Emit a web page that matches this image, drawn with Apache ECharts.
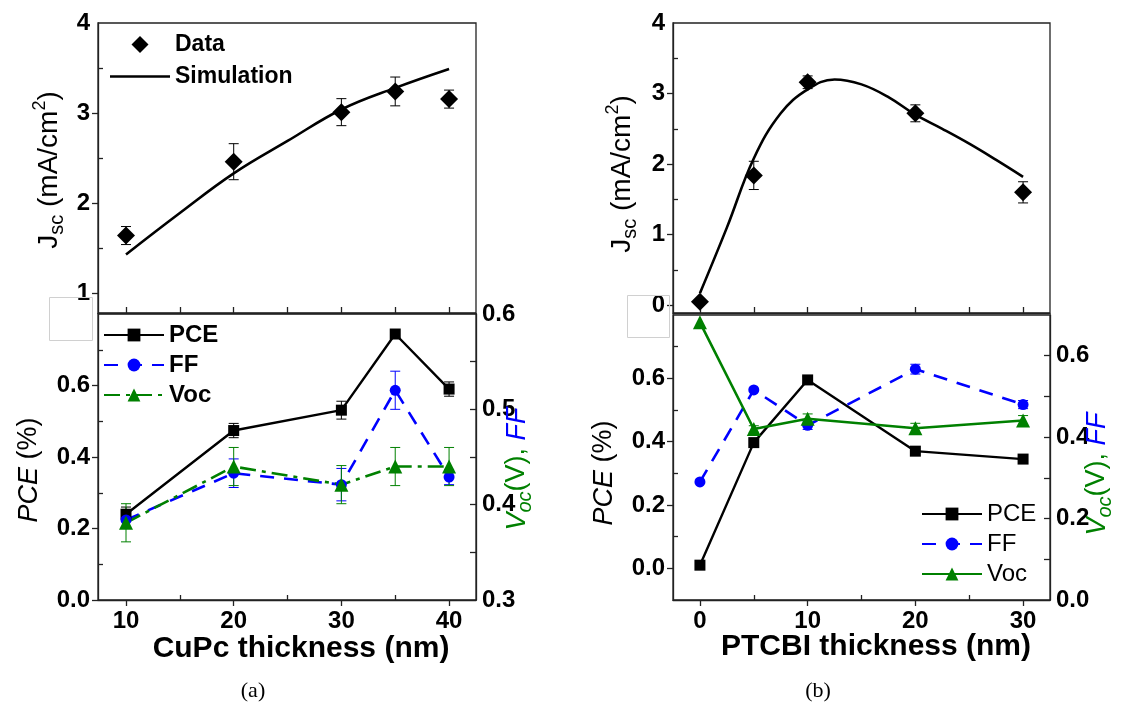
<!DOCTYPE html>
<html><head><meta charset="utf-8">
<script src="https://cdn.jsdelivr.net/npm/echarts@6/dist/echarts.min.js"></script>
<style>html,body{margin:0;padding:0;background:#fff}#c{width:1123px;height:711px}</style>
</head><body><div id="c"></div>
<script>
// ---------- (a) CuPc thickness ----------
const cupcX = [10, 20, 30, 35, 40];
const cupcJsc = [1.64, 2.46, 3.01, 3.24, 3.155];
const cupcJscErr = [0.1, 0.2, 0.15, 0.16, 0.1];
const cupcSimX = [10, 15, 20, 25, 30, 35, 40];
const cupcSimJsc = [1.43, 1.89, 2.33, 2.69, 3.04, 3.28, 3.49];
const cupcPCE = [0.24, 0.474, 0.531, 0.744, 0.59];
const cupcPCEErr = [0.02, 0.02, 0.025, 0, 0.02];
const cupcFF = [0.384, 0.433, 0.421, 0.52, 0.429];
const cupcFFErr = [0.009, 0.015, 0.017, 0.02, 0.008];
const cupcVoc = [0.381, 0.44, 0.421, 0.44, 0.44];
const cupcVocErr = [0.02, 0.02, 0.02, 0.02, 0.02];
// ---------- (b) PTCBI thickness ----------
const ptcbiX = [0, 5, 10, 20, 30];
const ptcbiJsc = [0.05, 1.84, 3.16, 2.72, 1.6];
const ptcbiJscErr = [0.02, 0.2, 0.09, 0.12, 0.15];
const ptcbiSimX = [0, 2.5, 5, 7.5, 10, 12.5, 15, 17.5, 20, 22.5, 25, 27.5, 30];
const ptcbiSimJsc = [0.17, 1.1, 2.08, 2.72, 3.06, 3.2, 3.13, 2.95, 2.7, 2.5, 2.29, 2.06, 1.82];
const ptcbiPCE = [0.01, 0.397, 0.595, 0.37, 0.345];
const ptcbiPCEErr = [0, 0, 0.01, 0, 0];
const ptcbiFF = [0.29, 0.516, 0.429, 0.567, 0.48];
const ptcbiFFErr = [0, 0, 0.01, 0.012, 0.01];
const ptcbiVoc = [0.682, 0.42, 0.445, 0.422, 0.441];
const ptcbiVocErr = [0, 0.008, 0.012, 0.012, 0.012];
// ---------- tick labels ----------
const cupcXLabels = [10, 20, 30, 40];
const cupcXMinor = [15, 25, 35];
const cupcJscLabels = [1, 2, 3, 4];
const cupcPCELabels = [0, 0.2, 0.4, 0.6];
const cupcRightLabels = [0.3, 0.4, 0.5, 0.6];
const ptcbiXLabels = [0, 10, 20, 30];
const ptcbiXMinor = [5, 15, 25];
const ptcbiJscLabels = [0, 1, 2, 3, 4];
const ptcbiPCELabels = [0, 0.2, 0.4, 0.6];
const ptcbiRightLabels = [0, 0.2, 0.4, 0.6];

const F = '"Liberation Sans", Arial, sans-serif';
const AX = '#222';
const BLUE = '#0000ff', GREEN = '#008000';
const DIAMOND_ICON = 'path://M0,-1L1,0L0,1L-1,0Z';
const LINE_ICON = 'path://M0,0L60,0L60,2.6L0,2.6Z';
function pairs(xs, ys) { return xs.map((x, i) => [x, ys[i]]); }
function errData(xs, ys, es) { return xs.map((x, i) => [x, ys[i] - es[i], ys[i] + es[i]]); }
function errSeries(xi, yi, data, color) {
  return {
    type: 'custom', xAxisIndex: xi, yAxisIndex: yi, data: data, z: 1, silent: true,
    encode: { x: 0, y: [1, 2] },
    renderItem: function (params, api) {
      const x = api.value(0), lo = api.value(1), hi = api.value(2);
      if (hi - lo <= 0) return;
      const a = api.coord([x, lo]), b = api.coord([x, hi]); const w = 5;
      const st = { stroke: color, lineWidth: 1 };
      return { type: 'group', children: [
        { type: 'line', shape: { x1: a[0], y1: a[1], x2: b[0], y2: b[1] }, style: st },
        { type: 'line', shape: { x1: a[0] - w, y1: a[1], x2: a[0] + w, y2: a[1] }, style: st },
        { type: 'line', shape: { x1: b[0] - w, y1: b[1], x2: b[0] + w, y2: b[1] }, style: st }] };
    }
  };
}
function axis(o) {
  return {
    type: 'value', gridIndex: o.g, min: o.min, max: o.max, position: o.pos,
    axisLine: { show: o.line !== false, onZero: false, lineStyle: { color: AX, width: 1.3 } },
    axisTick: { show: true, inside: !!o.inside, length: o.len || 6, customValues: o.ticks, lineStyle: { color: AX, width: 1.3 } },
    axisLabel: o.labels ? { show: true, customValues: o.labels, margin: o.margin || 8, fontSize: 24, fontWeight: 'bold', color: '#000', fontFamily: F, formatter: o.fmt } : { show: false },
    splitLine: { show: false }, splitArea: { show: false }
  };
}
const f1 = v => v.toFixed(1);
const gridStyle = { show: true, borderColor: AX, borderWidth: 1.3, backgroundColor: 'transparent' };

const option = {
  animation: false,
  backgroundColor: '#fff',
  grid: [
    Object.assign({ left: 98, top: 23, width: 378, height: 290 }, gridStyle),
    Object.assign({ left: 98, top: 314, width: 378, height: 286 }, gridStyle),
    Object.assign({ left: 673, top: 23, width: 377, height: 290 }, gridStyle),
    Object.assign({ left: 673, top: 315, width: 377, height: 285 }, gridStyle)
  ],
  xAxis: [
    axis({ g: 0, min: 7.4, max: 42.5, pos: 'bottom', ticks: cupcSimX, inside: true, len: 6 }),
    axis({ g: 1, min: 7.4, max: 42.5, pos: 'bottom', ticks: cupcXLabels, labels: cupcXLabels, margin: 9 }),
    axis({ g: 1, min: 7.4, max: 42.5, pos: 'bottom', ticks: cupcXMinor, inside: true, len: 5, line: false }),
    axis({ g: 2, min: -2.5, max: 32.5, pos: 'bottom', ticks: [0, 5, 10, 15, 20, 25, 30], inside: true, len: 6 }),
    axis({ g: 3, min: -2.5, max: 32.5, pos: 'bottom', ticks: ptcbiXLabels, labels: ptcbiXLabels, margin: 9 }),
    axis({ g: 3, min: -2.5, max: 32.5, pos: 'bottom', ticks: ptcbiXMinor, inside: true, len: 5, line: false })
  ],
  yAxis: [
    axis({ g: 0, min: 0.78, max: 4, pos: 'left', ticks: [1, 2, 3], labels: cupcJscLabels }),
    axis({ g: 0, min: 0.78, max: 4, pos: 'left', ticks: [1.5, 2.5, 3.5], inside: true, len: 5, line: false }),
    axis({ g: 1, min: 0, max: 0.8, pos: 'left', ticks: cupcPCELabels, labels: cupcPCELabels, fmt: f1 }),
    axis({ g: 1, min: 0, max: 0.8, pos: 'left', ticks: [0.1, 0.3, 0.5, 0.7], inside: true, len: 5, line: false }),
    axis({ g: 1, min: 0.3, max: 0.6, pos: 'right', ticks: [0.35, 0.4, 0.45, 0.5, 0.55], inside: true, len: 6, labels: cupcRightLabels, fmt: f1, margin: 6 }),
    axis({ g: 2, min: -0.11, max: 4, pos: 'left', ticks: [0, 1, 2, 3], labels: ptcbiJscLabels }),
    axis({ g: 2, min: -0.11, max: 4, pos: 'left', ticks: [0.5, 1.5, 2.5, 3.5], inside: true, len: 5, line: false }),
    axis({ g: 3, min: -0.1, max: 0.8, pos: 'left', ticks: ptcbiPCELabels, labels: ptcbiPCELabels, fmt: f1 }),
    axis({ g: 3, min: -0.1, max: 0.8, pos: 'left', ticks: [0.1, 0.3, 0.5, 0.7], inside: true, len: 5, line: false }),
    axis({ g: 3, min: 0, max: 0.7, pos: 'right', ticks: [0.1, 0.2, 0.3, 0.4, 0.5, 0.6], inside: true, len: 6, labels: ptcbiRightLabels, fmt: f1, margin: 6 })
  ],
  legend: [
    { data: [{ name: 'Data', icon: DIAMOND_ICON }, { name: 'Simulation', icon: LINE_ICON }],
      left: 110, top: 33, padding: 0, orient: 'vertical', itemWidth: 60, itemHeight: 17, itemGap: 9, symbolKeepAspect: true,
      textStyle: { fontSize: 23, fontWeight: 'bold', color: '#000', fontFamily: F } },
    { data: ['PCE', 'FF', 'Voc'], left: 103, top: 323, padding: 0, orient: 'vertical', itemWidth: 60, itemHeight: 16, itemGap: 6,
      textStyle: { fontSize: 24, fontWeight: 'bold', color: '#000', fontFamily: F } },
    { data: ['PCE (b)', 'FF (b)', 'Voc (b)'], left: 921, top: 502, padding: 0, orient: 'vertical', itemWidth: 60, itemHeight: 16, itemGap: 6,
      formatter: n => n.replace(' (b)', ''),
      textStyle: { fontSize: 24, color: '#000', fontFamily: F } }
  ],
  series: [
    errSeries(0, 0, errData(cupcX, cupcJsc, cupcJscErr), '#000'),
    { name: 'Data', type: 'scatter', xAxisIndex: 0, yAxisIndex: 0, data: pairs(cupcX, cupcJsc), symbol: 'diamond', symbolSize: 18, itemStyle: { color: '#000', opacity: 1 }, z: 3 },
    { name: 'Simulation', type: 'line', xAxisIndex: 0, yAxisIndex: 0, data: pairs(cupcSimX, cupcSimJsc), smooth: 0.4, showSymbol: false, symbol: 'none', lineStyle: { color: '#000', width: 2.6 }, itemStyle: { color: '#000' }, z: 2 },

    errSeries(1, 2, errData(cupcX, cupcPCE, cupcPCEErr), '#000'),
    errSeries(1, 4, errData(cupcX, cupcFF, cupcFFErr), BLUE),
    errSeries(1, 4, errData(cupcX, cupcVoc, cupcVocErr), GREEN),
    { name: 'PCE', type: 'line', xAxisIndex: 1, yAxisIndex: 2, data: pairs(cupcX, cupcPCE), symbol: 'rect', symbolSize: 11, lineStyle: { color: '#000', width: 2.4 }, itemStyle: { color: '#000' }, z: 3 },
    { name: 'FF', type: 'line', xAxisIndex: 1, yAxisIndex: 4, data: pairs(cupcX, cupcFF), symbol: 'circle', symbolSize: 11, lineStyle: { color: BLUE, width: 2.6, type: [14, 10] }, itemStyle: { color: BLUE }, z: 3 },
    { name: 'Voc', type: 'line', xAxisIndex: 1, yAxisIndex: 4, data: pairs(cupcX, cupcVoc), symbol: 'triangle', symbolSize: 14, lineStyle: { color: GREEN, width: 2.6, type: [16, 6, 4, 6] }, itemStyle: { color: GREEN }, z: 3 },

    errSeries(3, 5, errData(ptcbiX, ptcbiJsc, ptcbiJscErr), '#000'),
    { name: 'Data (b)', type: 'scatter', xAxisIndex: 3, yAxisIndex: 5, data: pairs(ptcbiX, ptcbiJsc), symbol: 'diamond', symbolSize: 18, itemStyle: { color: '#000', opacity: 1 }, z: 3 },
    { name: 'Simulation (b)', type: 'line', xAxisIndex: 3, yAxisIndex: 5, data: pairs(ptcbiSimX, ptcbiSimJsc), smooth: 0.4, showSymbol: false, symbol: 'none', lineStyle: { color: '#000', width: 2.6 }, z: 2 },

    errSeries(4, 7, errData(ptcbiX, ptcbiPCE, ptcbiPCEErr), '#000'),
    errSeries(4, 9, errData(ptcbiX, ptcbiFF, ptcbiFFErr), BLUE),
    errSeries(4, 9, errData(ptcbiX, ptcbiVoc, ptcbiVocErr), GREEN),
    { name: 'PCE (b)', type: 'line', xAxisIndex: 4, yAxisIndex: 7, data: pairs(ptcbiX, ptcbiPCE), symbol: 'rect', symbolSize: 11, lineStyle: { color: '#000', width: 2.4 }, itemStyle: { color: '#000' }, z: 3 },
    { name: 'FF (b)', type: 'line', xAxisIndex: 4, yAxisIndex: 9, data: pairs(ptcbiX, ptcbiFF), symbol: 'circle', symbolSize: 11, lineStyle: { color: BLUE, width: 2.6, type: [14, 10] }, itemStyle: { color: BLUE }, z: 3 },
    { name: 'Voc (b)', type: 'line', xAxisIndex: 4, yAxisIndex: 9, data: pairs(ptcbiX, ptcbiVoc), symbol: 'triangle', symbolSize: 14, lineStyle: { color: GREEN, width: 2.6 }, itemStyle: { color: GREEN }, z: 3 }
  ],
  graphic: []
};

function jscLabel(x, y) {
  return { type: 'text', x: x, y: y, rotation: Math.PI / 2, z: 10,
    style: { text: '{m|J}{s|sc}{m| (mA/cm}{p|2}{m|)}', align: 'center', verticalAlign: 'middle',
      rich: { m: { fontSize: 28, fontFamily: F, fill: '#000' },
              s: { fontSize: 20, fontFamily: F, fill: '#000', padding: [16, 0, 0, 0] },
              p: { fontSize: 18, fontFamily: F, fill: '#000', padding: [0, 0, 18, 0] } } } };
}
function pceLabel(x, y) {
  return { type: 'text', x: x, y: y, rotation: Math.PI / 2, z: 10,
    style: { text: '{i|PCE}{m| (%)}', align: 'center', verticalAlign: 'middle',
      rich: { i: { fontSize: 27, fontFamily: F, fontStyle: 'italic', fill: '#000' },
              m: { fontSize: 27, fontFamily: F, fill: '#000' } } } };
}
function vocLabel(x, y) {
  return { type: 'text', x: x, y: y, rotation: Math.PI / 2, z: 10,
    style: { text: '{v|V}{s|oc}{m|(V), }{f|FF}', align: 'center', verticalAlign: 'middle',
      rich: { v: { fontSize: 27, fontFamily: F, fontStyle: 'italic', fill: GREEN },
              s: { fontSize: 20, fontFamily: F, fontStyle: 'italic', fill: GREEN, padding: [16, 0, 0, 0] },
              m: { fontSize: 27, fontFamily: F, fill: GREEN },
              f: { fontSize: 27, fontFamily: F, fontStyle: 'italic', fill: BLUE } } } };
}
function text(x, y, t, size, weight, family) {
  return { type: 'text', x: x, y: y, z: 10,
    style: { text: t, fontSize: size, fontWeight: weight || 'normal', fontFamily: family || F, fill: '#000', align: 'center', verticalAlign: 'middle' } };
}
option.graphic = [
  { type: 'rect', shape: { x: 49.5, y: 297.5, width: 43, height: 43 }, style: { fill: 'none', stroke: '#d0d0d0', lineWidth: 1 }, z: 5 },
  { type: 'rect', shape: { x: 627.5, y: 295.5, width: 42, height: 42 }, style: { fill: 'none', stroke: '#d0d0d0', lineWidth: 1 }, z: 5 },
  jscLabel(49, 170),
  jscLabel(622, 174),
  pceLabel(29, 470),
  pceLabel(604, 473),
  vocLabel(517, 469),
  vocLabel(1097, 474),
  text(301, 649, 'CuPc thickness (nm)', 30, 'bold'),
  text(876, 647, 'PTCBI thickness (nm)', 30, 'bold'),
  text(253, 691, '(a)', 22, 'normal', '"Liberation Serif", "DejaVu Serif", serif'),
  text(818, 691, '(b)', 22, 'normal', '"Liberation Serif", "DejaVu Serif", serif')
];

const chart = echarts.init(document.getElementById('c'), null, { renderer: 'canvas' });
chart.setOption(option);
</script>
</body></html>
